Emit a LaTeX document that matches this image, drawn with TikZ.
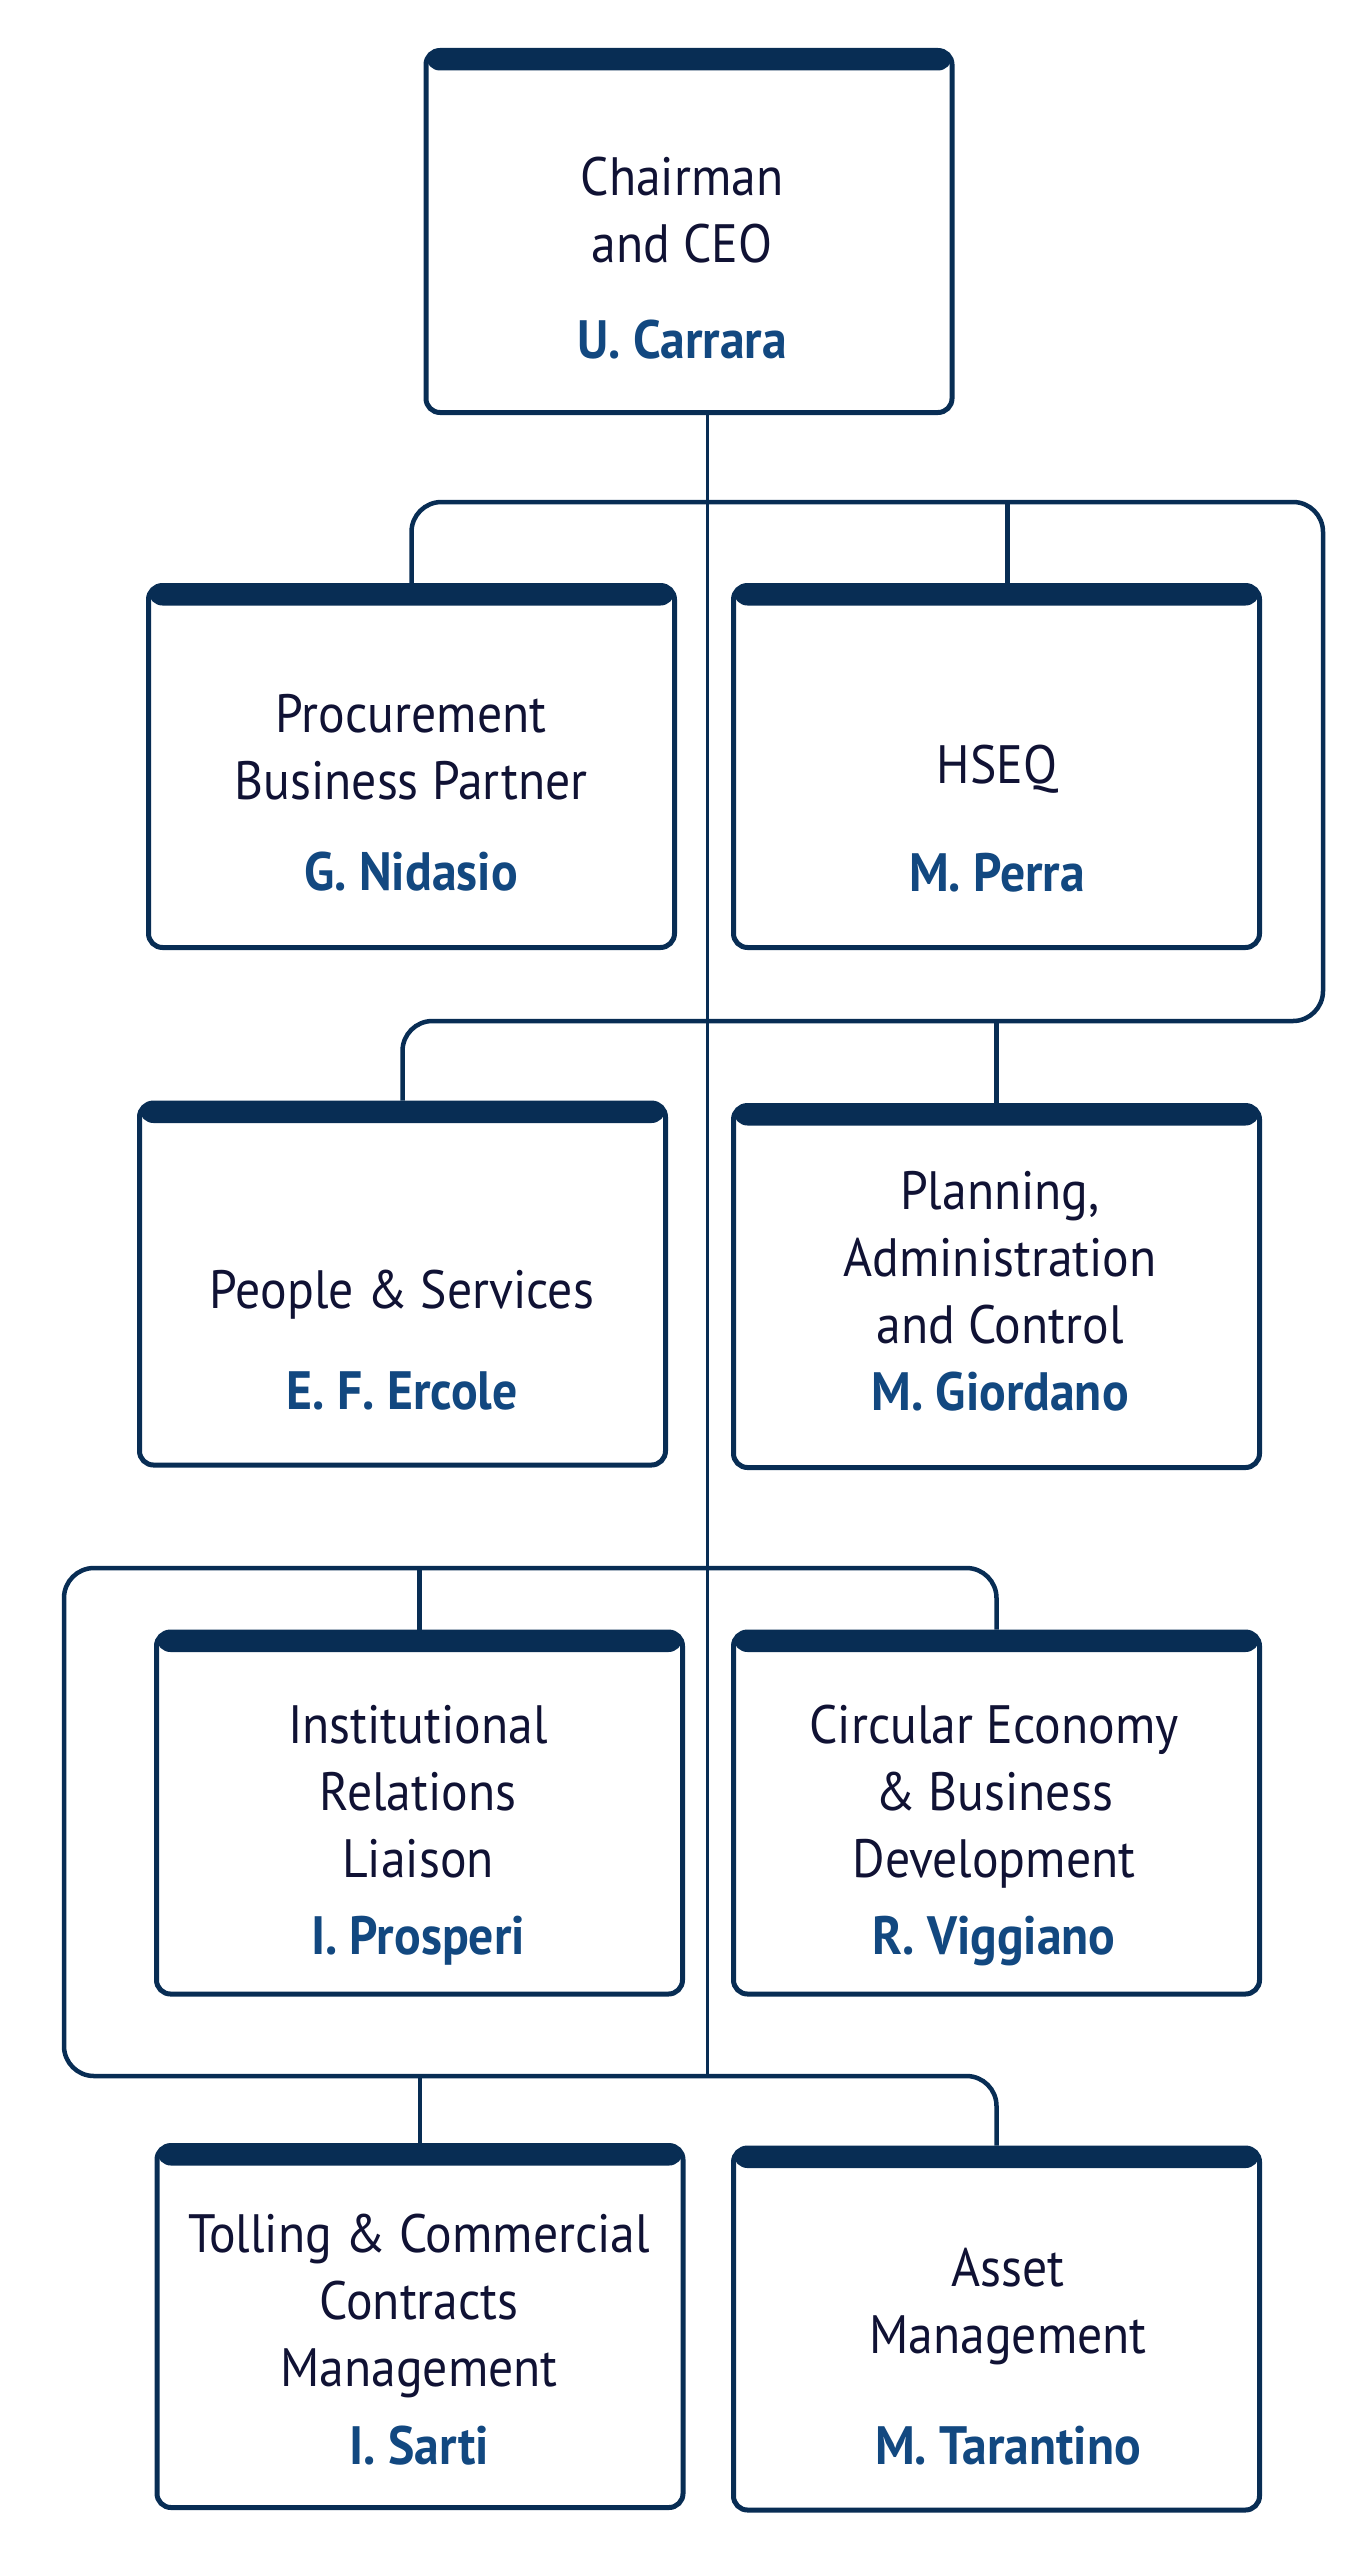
\documentclass[tikz,border=0pt]{standalone}
\usepackage{fontspec}
\setmainfont{PT Sans}[FakeStretch=0.92]
\usepackage{xcolor}
\usepackage{tikz}

\definecolor{navy}{RGB}{8,45,84}
\definecolor{ink}{RGB}{16,18,52}
\definecolor{nameblue}{RGB}{18,72,128}
\newcommand{\who}[1]{{\bfseries\color{nameblue}#1}}

\begin{document}
\begin{tikzpicture}[x=1pt,y=-1pt]
\useasboundingbox (0,0) rectangle (1372,2550);

\tikzstyle{orgbox}=[draw=navy,line width=5pt,rounded corners=14pt,fill=white,
  minimum width=526pt,minimum height=362pt,inner sep=0pt,
  path picture={\fill[navy] (path picture bounding box.north west) rectangle ([yshift=-20pt]path picture bounding box.north east);}]
\tikzstyle{role}=[anchor=north,align=center,inner sep=0pt,text=ink,font=\fontsize{54pt}{67pt}\selectfont]
\tikzstyle{link}=[draw=navy,line width=4.5pt,rounded corners=30pt]
\tikzstyle{spineline}=[draw=navy,line width=3pt]

%% boxes
\node[orgbox] (ceo) at (689,231.5) {};
\node[orgbox] (proc) at (411.5,766.5) {};
\node[orgbox] (hseq) at (996.5,766.5) {};
\node[orgbox] (people) at (402.5,1284) {};
\node[orgbox] (plan) at (996.5,1286.5) {};
\node[orgbox] (inst) at (419.5,1813) {};
\node[orgbox] (circ) at (996.5,1813) {};
\node[orgbox] (toll) at (420,2326.5) {};
\node[orgbox] (asset) at (996.5,2329) {};

%% texts
\node[role] (ceo-txt) at (682,157) {Chairman\\and CEO\\[29pt]\who{U. Carrara}};
\node[role] (proc-txt) at (411,694) {Procurement\\Business Partner\\[24pt]\who{G. Nidasio}};
\node[role] (hseq-txt) at (997,745) {HSEQ\\[41pt]\who{M. Perra}};
\node[role] (people-txt) at (402,1270) {People \& Services\\[34pt]\who{E. F. Ercole}};
\node[role] (plan-txt) at (1000,1171) {Planning,\\Administration\\and Control\\\who{M. Giordano}};
\node[role] (inst-txt) at (418,1705) {Institutional\\Relations\\Liaison\\[10pt]\who{I. Prosperi}};
\node[role] (circ-txt) at (994,1705) {Circular Economy\\\& Business\\Development\\[10pt]\who{R. Viggiano}};
\node[role] (toll-txt) at (419,2214) {Tolling \& Commercial\\Contracts\\Management\\[11pt]\who{I. Sarti}};
\node[role] (asset-txt) at (1008,2248) {Asset\\Management\\[44pt]\who{M. Tarantino}};

%% reporting lines
\coordinate (east1) at (1323,502);
\coordinate (east2) at (1323,1021);
\coordinate (west1) at (64,1568);
\coordinate (west2) at (64,2076);
\coordinate (spine) at (707,2076);

\draw[spineline] (ceo.south -| spine) -- (spine);
\draw[link] (proc.north) |- (east1) -- (east2) -| (people.north);
\draw[link] ([xshift=11pt]hseq.north) -- ([xshift=11pt]hseq.north |- east1);
\draw[link] (plan.north) -- (plan.north |- east2);
\draw[link] (circ.north) |- (west1) -- (west2) -| (asset.north);
\draw[link] (inst.north) -- (inst.north |- west1);
\draw[link] (toll.north) -- (toll.north |- west2);
\end{tikzpicture}
\end{document}
